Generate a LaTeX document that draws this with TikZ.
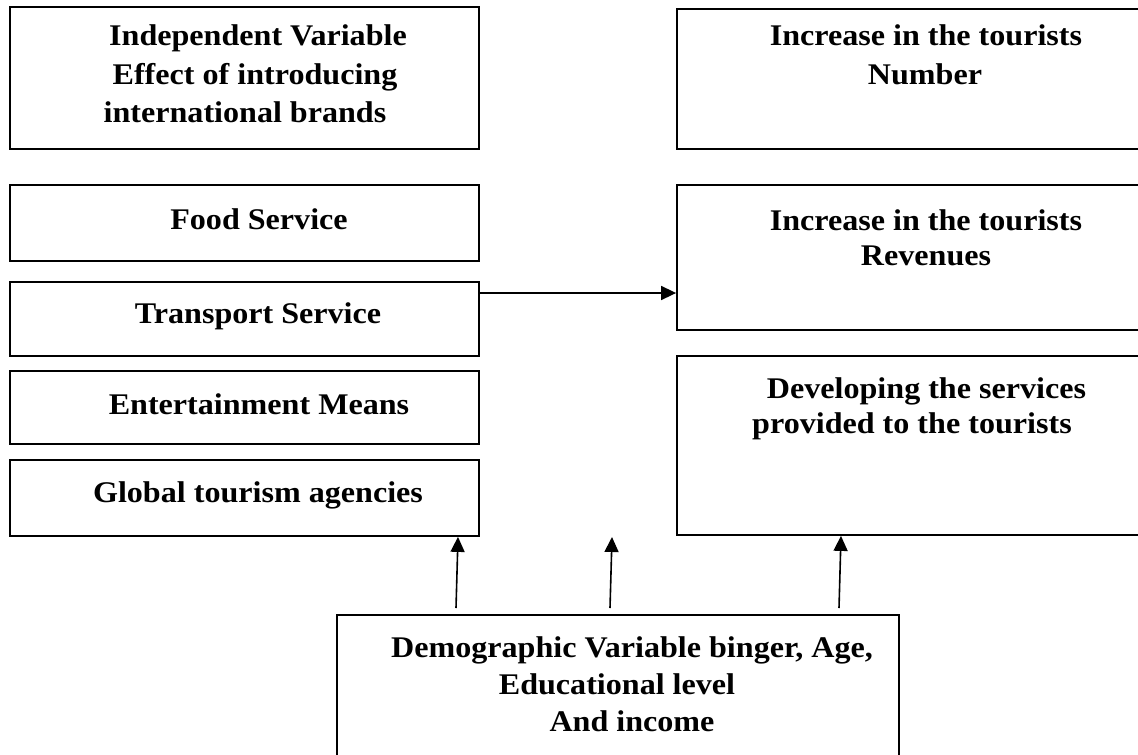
\documentclass[tikz,border=0pt]{standalone}
\usepackage{fontspec}
\setmainfont{Liberation Serif}[FakeStretch=1.07]
\usetikzlibrary{arrows.meta}
\tikzset{
  box/.style={draw, line width=1.8pt, rectangle, inner sep=0pt, fill=none},
  txt/.style={anchor=base, inner sep=0pt, font=\fontsize{30}{38}\selectfont\bfseries},
  arr/.style={line width=1.6pt, -{Triangle[length=15pt,width=14pt]}}
}
\begin{document}
\begin{tikzpicture}[x=1pt,y=-1pt]
\clip (0,0) rectangle (1138,755);
\fill[white] (0,0) rectangle (1138,755);
% left column boxes
\node[box, minimum width=469pt, minimum height=142pt] (indep) at (244.5,78) {};
\node[box, minimum width=469pt, minimum height=76pt] (food) at (244.5,223) {};
\node[box, minimum width=469pt, minimum height=74pt] (transport) at (244.5,319) {};
\node[box, minimum width=469pt, minimum height=73pt] (entert) at (244.5,407.5) {};
\node[box, minimum width=469pt, minimum height=76pt] (global) at (244.5,498) {};
% right column boxes
\node[box, minimum width=473pt, minimum height=140pt] (number) at (913.5,79) {};
\node[box, minimum width=473pt, minimum height=145pt] (revenues) at (913.5,257.5) {};
\node[box, minimum width=473pt, minimum height=179pt] (develop) at (913.5,445.5) {};
% bottom box
\node[box, minimum width=562pt, minimum height=165pt] (demo) at (618,697.5) {};
% texts
\node[txt] (t1a) at (258,45) {Independent Variable};
\node[txt] (t1b) at (255,84) {Effect of introducing};
\node[txt] (t1c) at (245,122) {international brands};
\node[txt] (t2a) at (926,45) {Increase in the tourists};
\node[txt] (t2b) at (925,84) {Number};
\node[txt] (t3) at (259,229) {Food Service};
\node[txt] (t4) at (258,323) {Transport Service};
\node[txt] (t5) at (259,414) {Entertainment Means};
\node[txt] (t6) at (258,502) {Global tourism agencies};
\node[txt] (t7a) at (926,230) {Increase in the tourists};
\node[txt] (t7b) at (926,265) {Revenues};
\node[txt] (t8a) at (926.5,398) {Developing the services};
\node[txt] (t8b) at (912,433) {provided to the tourists};
\node[txt] (t9a) at (632,657) {Demographic Variable binger, Age,};
\node[txt] (t9b) at (617,694) {Educational level};
\node[txt] (t9c) at (632,731) {And income};
% connectors
\coordinate (hstart) at (0,293);
\draw[arr] (transport.east |- hstart) -- (revenues.west |- hstart);
\coordinate (s1) at (456,608);
\coordinate (e1) at (458,0);
\coordinate (s2) at (610,608);
\coordinate (e2) at (612,537);
\coordinate (s3) at (839,608);
\coordinate (e3) at (841,0);
\draw[arr] (s1) -- (global.south -| e1);
\draw[arr] (s2) -- (e2);
\draw[arr] (s3) -- (develop.south -| e3);
\end{tikzpicture}
\end{document}
